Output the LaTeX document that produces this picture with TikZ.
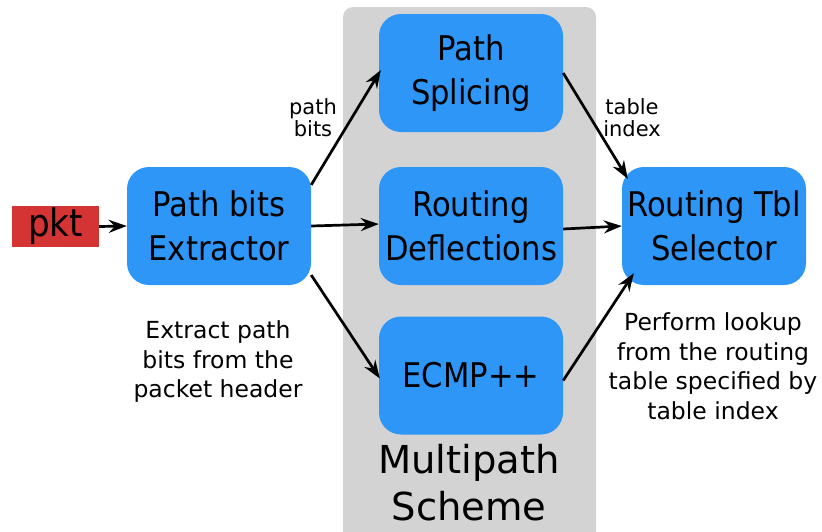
\documentclass[tikz,border=0pt]{standalone}
\usepackage{fontspec}
\setmainfont{DejaVu Sans}
\newfontfamily\condensedfont{DejaVu Sans Condensed}
\usetikzlibrary{arrows.meta,calc}
\definecolor{boxblue}{HTML}{2D96F6}
\definecolor{pktred}{HTML}{D43434}
\definecolor{groupgray}{HTML}{D3D3D3}
\tikzset{
  stage/.style={fill=boxblue, rounded corners=22pt, minimum width=184pt,
    minimum height=118pt, inner sep=0pt, align=center,
    font=\condensedfont\fontsize{34}{43.5}\selectfont},
  flow/.style={line width=2.7pt, -{Stealth[length=18pt,width=13pt,inset=6pt]}},
  note/.style={align=center, inner sep=0pt, font=\fontsize{23.5}{29.5}\selectfont},
  edgelabel/.style={align=center, inner sep=0pt, font=\fontsize{21}{22}\selectfont}
}
\begin{document}
\begin{tikzpicture}[x=1pt,y=-1pt]
  \useasboundingbox (0,0) rectangle (822,531);
  % multipath group panel
  \fill[groupgray, rounded corners=10pt] (343,7) rectangle (596,545);
  \node[align=center, inner sep=0pt, font=\fontsize{38.5}{47}\selectfont] (grp) at (469,483) {Multipath\\Scheme};

  % input packet
  \node[fill=pktred, minimum width=87pt, minimum height=41pt, inner sep=0pt,
        font=\condensedfont\fontsize{38}{40}\selectfont] (pkt) at (55.5,226.5) {pkt};

  % processing stages
  \node[stage] (ext) at (219,226) {Path bits\\Extractor};
  \node[stage] (spl) at (471,73) {Path\\Splicing};
  \node[stage] (dfl) at (471,226) {Routing\\Deflections};
  \node[stage] (ecmp) at (471,375.5) {ECMP++};
  \node[stage] (sel) at (714,226) {Routing Tbl\\Selector};

  % connections
  \draw[flow] (pkt.east) -- (ext.west);
  \draw[flow] (ext.24.5) -- ($(spl.west)+(2,-3)$);
  \draw[flow] (ext.east) -- ($(dfl.west)+(0,-2)$);
  \draw[flow] (ext.-28.6) -- ($(ecmp.west)+(1,3)$);
  \draw[flow] (spl.east) -- ($(sel.north west)+(6,12)$);
  \draw[flow] ($(dfl.east)+(0,3)$) -- ($(sel.west)+(0,0)$);
  \draw[flow] ($(ecmp.east)+(0,5)$) -- ($(sel.south west)+(12,-12)$);

  % labels
  \node[edgelabel] (lpb) at (313,118) {path\\bits};
  \node[edgelabel] (lti) at (632,118) {table\\index};
  \node[note] (next) at (218,362) {Extract path\\bits from the\\packet header};
  \node[note] (nsel) at (713,366) {Perform lookup\\from the routing\\table specified by\\table index};
\end{tikzpicture}
\end{document}
